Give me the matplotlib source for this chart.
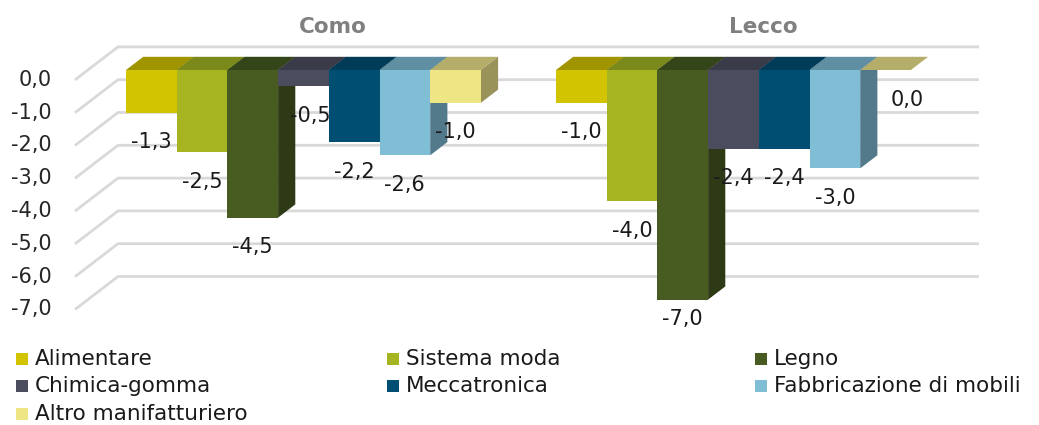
import matplotlib
matplotlib.use("Agg")
import matplotlib.pyplot as plt
from matplotlib.patches import Polygon, Rectangle

# ---------------- data ----------------
groups = ["Como", "Lecco"]
series = ["Alimentare", "Sistema moda", "Legno", "Chimica-gomma",
          "Meccatronica", "Fabbricazione di mobili", "Altro manifatturiero"]
como_values = [-1.3, -2.5, -4.5, -0.5, -2.2, -2.6, -1.0]
lecco_values = [-1.0, -4.0, -7.0, -2.4, -2.4, -3.0, 0.0]
y_ticks = [0, -1, -2, -3, -4, -5, -6, -7]
y_tick_labels = ["0,0", "-1,0", "-2,0", "-3,0", "-4,0", "-5,0", "-6,0", "-7,0"]

# ---------------- style ----------------
front_colors = ["#D2C400", "#A5B420", "#485C22", "#4B4D5E", "#004F73", "#80BED6", "#EEE684"]
top_colors = ["#A09400", "#7B891B", "#35451A", "#3A3B48", "#003C58", "#608FA3", "#B5AE6A"]
side_colors = ["#8F8400", "#6A7718", "#2D3A15", "#33343F", "#00344C", "#527A8A", "#99935A"]
grid_color = "#D9D9D9"
FONT = "DejaVu Sans"

W, H = 1039, 425
PX_X, PX_Y = 50.7, 32.8      # pixels per x unit / per value unit
X0_PX, Y0_PX = 126, 70       # pixel position of first bar front-left / zero line
GAP = 430 / PX_X             # group spacing in x units
DX, DY = 0.848, 1.006        # full floor depth projected offsets
D_FRONT, D_BACK = 0.3, 0.7   # bar depth span
WL, WR = -0.752, 16.23       # wall x extents

fig = plt.figure(figsize=(W / 100, H / 100), dpi=100)
ax = fig.add_axes([0, 0, 1, 1])
ax.set_xlim(-X0_PX / PX_X, (W - X0_PX) / PX_X)
ax.set_ylim((Y0_PX - H) / PX_Y, Y0_PX / PX_Y)
ax.axis("off")


def P(x, v, d):
    return (x + (d - D_FRONT) * DX, v + (d - D_FRONT) * DY)


# gridlines (left side wall + back wall)
for v, lab in zip(y_ticks, y_tick_labels):
    pts = [P(WL, v, 0), P(WL, v, 1), P(WR, v, 1)]
    ax.plot([p[0] for p in pts], [p[1] for p in pts], color=grid_color, lw=2,
            zorder=0, solid_capstyle="butt")
    fp = P(WL, v, 0)
    ax.text(-1.46, fp[1], lab, ha="right", va="center",
            fontsize=15, color="#262626", family=FONT)

nudges = {(0, 3): 0.14, (1, 6): 0.43}

for g, (gname, vals) in enumerate(zip(groups, [como_values, lecco_values])):
    base = g * GAP
    z = 2
    for i, v in enumerate(vals):
        L, R = base + i, base + i + 1
        top = [P(L, 0, D_FRONT), P(R, 0, D_FRONT), P(R, 0, D_BACK), P(L, 0, D_BACK)]
        side = [P(R, 0, D_FRONT), P(R, 0, D_BACK), P(R, v, D_BACK), P(R, v, D_FRONT)]
        front = [P(L, 0, D_FRONT), P(R, 0, D_FRONT), P(R, v, D_FRONT), P(L, v, D_FRONT)]
        ax.add_patch(Polygon(top, closed=True, facecolor=top_colors[i], edgecolor="none", zorder=z))
        ax.add_patch(Polygon(side, closed=True, facecolor=side_colors[i], edgecolor="none", zorder=z + 0.1))
        ax.add_patch(Polygon(front, closed=True, facecolor=front_colors[i], edgecolor="none", zorder=z + 0.2))
        z += 1
        lx = (L + R) / 2 + nudges.get((g, i), 0)
        ly = max(v - 0.9, -7.6)
        ax.text(lx, ly, f"{v:.1f}".replace(".", ","), ha="center", va="center",
                fontsize=15, color="#1A1A1A", family=FONT, zorder=50)
    ax.text(base + 3.5 + 0.58, (Y0_PX - 27) / PX_Y, gname, ha="center", va="center",
            fontsize=15.5, fontweight="bold", color="#808080", family=FONT)

# legend (manual, 3 columns)
col_x = [16, 387, 755]
row_y = [359, 386, 414]
for k, name in enumerate(series):
    r, c = divmod(k, 3)
    mx, my = col_x[c], row_y[r]
    fig.patches.append(Rectangle((mx / W, 1 - (my + 6) / H), 12 / W, 12 / H,
                                 transform=fig.transFigure, facecolor=front_colors[k],
                                 edgecolor="none"))
    fig.text((mx + 19) / W, 1 - my / H, name, ha="left", va="center",
             fontsize=15.5, color="#1A1A1A", family=FONT)

fig.savefig("out.png", dpi=100)
